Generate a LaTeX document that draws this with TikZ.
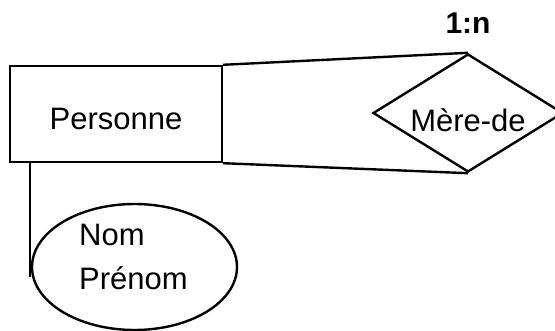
\documentclass[tikz,border=0pt]{standalone}
\usepackage{fontspec}
\setmainfont{Liberation Sans}
\usetikzlibrary{shapes.geometric, positioning}
\tikzset{
    erbox/.style = {inner sep=0pt, draw=black, line width=2.4pt,
        font=\fontsize{31}{44}\selectfont},
    entity/.style = {erbox, rectangle, minimum width=212pt, minimum height=96pt,
        text height=32pt, text depth=0pt},
    relation/.style = {erbox, diamond, aspect=1.6, minimum width=190pt,
        minimum height=118pt, text height=38pt, text depth=0pt},
    attribute/.style = {erbox, ellipse, minimum width=205pt, minimum height=126pt},
    attrtext/.style = {inner sep=0pt, align=left, font=\fontsize{31}{44}\selectfont},
    card/.style = {inner sep=0pt, font=\fontsize{30}{36}\selectfont\bfseries},
    link/.style = {draw=black, line width=2.4pt},
}

\begin{document}
\begin{tikzpicture}[x=1pt, y=-1pt]
            \useasboundingbox (0,0) rectangle (555,331);
            \node (pers) [entity] at (116,114) {Personne};
            \node (rel) [relation] at (468,113) {Mère-de};
            \node (attr) [attribute] at (134.5,267) {};
            \node (attrtext) [attrtext] at (133.5,257) {Nom\\Prénom};
            \node (card) [card, above=19pt of rel] {1:n};
            \coordinate (stem) at (30,277);
            % liens
            \path[link] (pers.north east) -- (rel.north);
            \path[link] (pers.south east) -- (rel.south);
            \path[link] (pers.south west -| stem) -- (stem);
            \end{tikzpicture}
\end{document}
